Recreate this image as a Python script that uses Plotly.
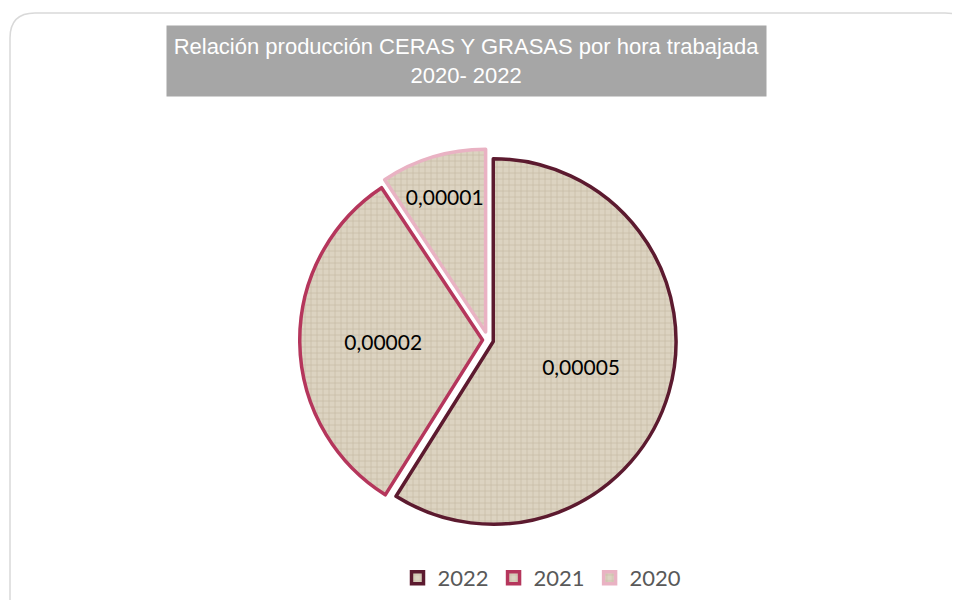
import plotly.graph_objects as go

years = ["2022", "2021", "2020"]
values = [0.0000462, 0.0000249, 0.0000073]
border_colors = ["#5c1a2f", "#b5365c", "#e9b2c3"]
pulls = [0.03, 0.03, 0.045]

W, H = 960, 600
OFF = 8  # page body margin

def px(x):
    return (x - OFF) / W

def py(y):
    return 1 - (y - OFF) / H

fig = go.Figure()
fig.add_trace(go.Pie(
    labels=years,
    values=values,
    sort=False,
    direction="clockwise",
    rotation=0,
    pull=pulls,
    texttemplate="%{value:.5f}",
    textposition="inside",
    insidetextorientation="horizontal",
    textfont=dict(family="Lato", size=21, color="#000000"),
    marker=dict(
        colors=["#d7cdb9"] * 3,
        line=dict(color=border_colors, width=3.5),
        pattern=dict(shape="+", fgcolor="#c3b7a0", bgcolor="#dcd3c1",
                     size=6, solidity=0.2),
    ),
    domain=dict(x=[px(297), px(679)], y=[py(531), py(149)]),
    hoverinfo="label+value",
))

# outer rounded frame
r = 25
x0, y0, x1, y1 = 10, 13, 970, 620
path = (f"M {px(x0)},{py(y1)} L {px(x0)},{py(y0 + r)} "
        f"Q {px(x0)},{py(y0)} {px(x0 + r)},{py(y0)} "
        f"L {px(x1 - r)},{py(y0)} Q {px(x1)},{py(y0)} {px(x1)},{py(y0 + r)} "
        f"L {px(x1)},{py(y1)}")
fig.add_shape(type="path", path=path, xref="paper", yref="paper",
              line=dict(color="#d9d9d9", width=1.5))

fig.add_annotation(
    x=px(466.5), y=py(61), xref="paper", yref="paper",
    xanchor="center", yanchor="middle",
    text="Relación producción CERAS Y GRASAS por hora trabajada<br>2020- 2022",
    showarrow=False,
    width=599, height=70, bgcolor="#a6a6a6", borderpad=0,
    font=dict(family="Liberation Sans", size=22, color="#ffffff"),
    align="center",
)

fig.update_layout(
    width=W, height=H,
    margin=dict(l=0, r=0, t=0, b=0),
    paper_bgcolor="#ffffff",
    separators=",.",
    showlegend=True,
    legend=dict(
        orientation="h", x=px(542), xanchor="center", y=py(578), yanchor="middle",
        font=dict(family="Lato", size=22, color="#595959"),
        traceorder="normal",
    ),
)

fig.write_html("out.html")
